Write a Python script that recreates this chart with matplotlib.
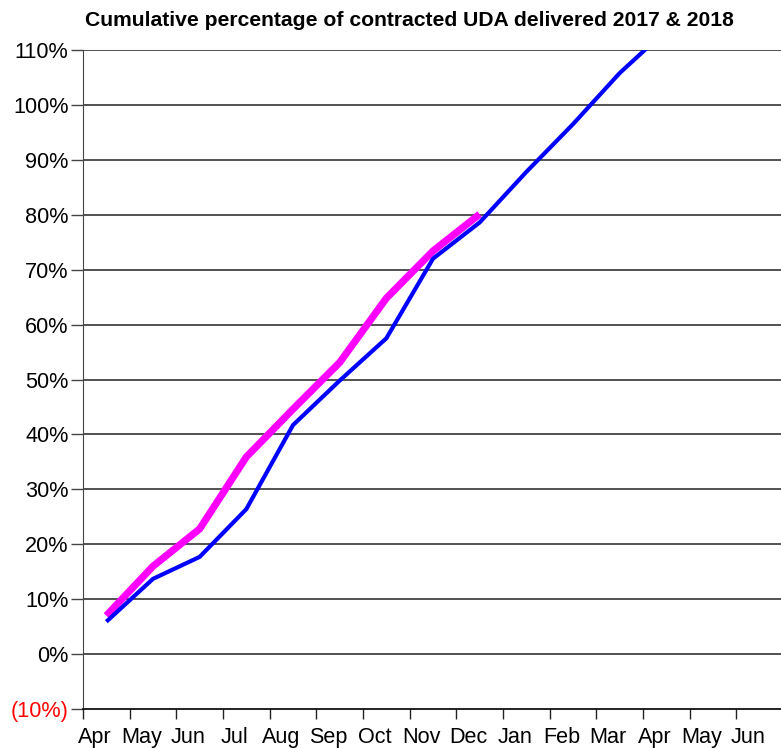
import numpy as np
import matplotlib.pyplot as plt
from matplotlib.ticker import FixedLocator

# %% Data
months = ['Apr', 'May', 'Jun', 'Jul', 'Aug', 'Sep', 'Oct', 'Nov', 'Dec',
          'Jan', 'Feb', 'Mar', 'Apr', 'May', 'Jun']
blue_pct = [5.9, 13.7, 17.7, 26.4, 41.7, 49.8, 57.5, 72.0, 78.6,
            87.8, 96.5, 105.8, 113.6]
magenta_pct = [7.0, 16.0, 22.8, 35.9, 44.6, 53.1, 64.8, 73.4, 80.1]
yticks = list(range(-10, 111, 10))

plt.rcParams['font.family'] = ['Liberation Sans', 'DejaVu Sans']

# %% Plot
fig = plt.figure(figsize=(7.81, 7.48), dpi=100)
ax = fig.add_axes([83/781, 1 - 709/748, 700/781, 659/748])

x_blue = np.arange(len(blue_pct))
x_mag = np.arange(len(magenta_pct))
ax.plot(x_mag, magenta_pct, color='#FF00FF', lw=5.2, solid_capstyle='butt', zorder=3)
ax.plot(x_blue, blue_pct, color='#0000FF', lw=3.0, solid_capstyle='butt', zorder=4)

ax.set_xlim(-0.5, len(months) - 0.5)
ax.set_ylim(-10, 110)

for y in yticks[1:]:
    ax.axhline(y, color='#222222', lw=1.1, zorder=1)

ax.set_yticks(yticks)
ylabels = ['(10%)' if v < 0 else f'{v}%' for v in yticks]
ax.set_yticklabels(ylabels, fontsize=15.6)
ax.get_yticklabels()[0].set_color('red')
ax.tick_params(axis='y', length=8.5, width=1, color='#444444', pad=2)

# x ticks at category boundaries, labels shifted a bit right of each tick
ax.xaxis.set_major_locator(FixedLocator(np.arange(len(months)) - 0.5))
ax.xaxis.set_major_formatter(plt.NullFormatter())
ax.xaxis.set_minor_locator(FixedLocator(np.arange(len(months)) - 0.25))
ax.set_xticklabels(months, minor=True, fontsize=15.6)
ax.tick_params(axis='x', which='major', length=7.5, width=1, color='#222222')
ax.tick_params(axis='x', which='minor', length=0, pad=13)

for s in ['top', 'right']:
    ax.spines[s].set_visible(False)
ax.spines['left'].set_color('#444444')
ax.spines['bottom'].set_color('#111111')
ax.spines['bottom'].set_linewidth(1.3)

fig.text(409/781, 1 - 21/748, 'Cumulative percentage of contracted UDA delivered 2017 & 2018',
         ha='center', va='center', fontsize=15.2, fontweight='bold')

fig.savefig('out.png', dpi=100)
